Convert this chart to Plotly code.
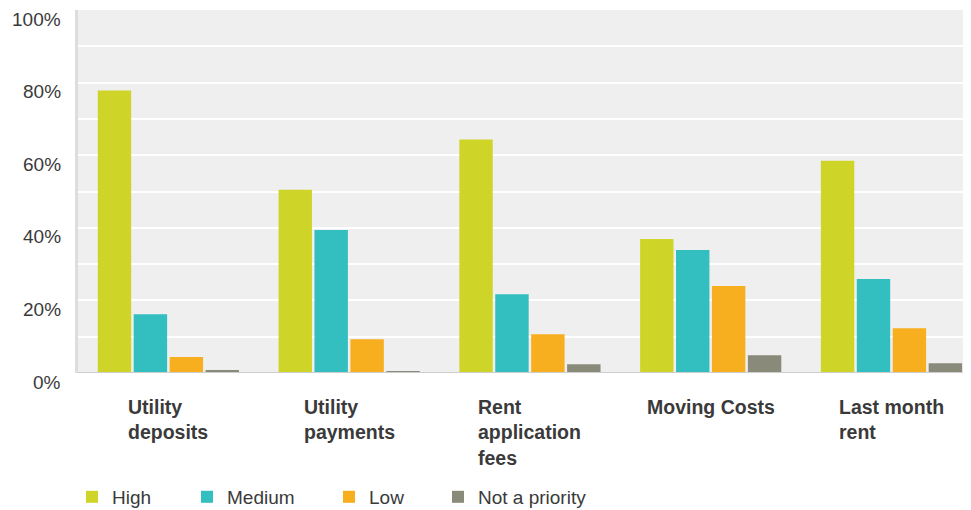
import plotly.graph_objects as go

categories = ["Utility deposits", "Utility payments", "Rent application fees", "Moving Costs", "Last month rent"]
category_labels = ["Utility<br>deposits", "Utility<br>payments", "Rent<br>application<br>fees", "Moving Costs", "Last month<br>rent"]
series_names = ["High", "Medium", "Low", "Not a priority"]
high = [77.8, 50.5, 64.3, 36.9, 58.5]
medium = [16.2, 39.4, 21.7, 33.9, 25.9]
low = [4.4, 9.3, 10.7, 24.0, 12.3]
not_priority = [0.8, 0.3, 2.4, 4.9, 2.7]
colors = ["#CFD528", "#33BEC0", "#F7AF1F", "#8A8A7A"]
y_tick_vals = [0, 20, 40, 60, 80, 100]
y_tick_text = ["0%", "20%", "40%", "60%", "80%", "100%"]

FONT = "Arial, Liberation Sans, sans-serif"
TXT = "#3a3a3a"
W, H = 963, 502
legend_x = [64, 179, 321, 430]

fig = go.Figure()
legend_layouts = {}
for i, (name, vals, col) in enumerate(zip(series_names, [high, medium, low, not_priority], colors)):
    lname = "legend" if i == 0 else f"legend{i+1}"
    fig.add_trace(go.Bar(x=categories, y=vals, name=name, legend=lname,
                         marker=dict(color=col, line=dict(width=0))))
    legend_layouts[lname] = dict(orientation="h", x=legend_x[i] / W, xref="container", xanchor="left",
                                 y=0.026, yref="container", yanchor="middle",
                                 font=dict(family=FONT, size=19, color=TXT),
                                 itemwidth=30, bgcolor="rgba(0,0,0,0)")

for cat, lab in zip(categories, category_labels):
    fig.add_annotation(x=cat, y=0, xref="x", yref="paper", text="<b>" + lab + "</b>",
                       showarrow=False, xanchor="center", yanchor="top", yshift=-21,
                       align="left", font=dict(family=FONT, size=19.5, color=TXT))

for v, t in zip(y_tick_vals, y_tick_text):
    fig.add_annotation(x=0, y=v, xref="paper", yref="y", text=t, showarrow=False,
                       xanchor="right", yanchor="middle", xshift=-15, yshift=-9,
                       font=dict(family=FONT, size=19, color=TXT))

fig.update_layout(
    width=W, height=H,
    margin=dict(l=70, r=0, t=2, b=137, autoexpand=False),
    paper_bgcolor="white", plot_bgcolor="#EFEFEF",
    barmode="group", bargap=0.205, bargroupgap=0.07,
    font=dict(family=FONT, size=19, color=TXT),
    showlegend=True,
    xaxis=dict(range=[-0.5, 4.44], showticklabels=False, showgrid=False, zeroline=False,
               showline=False, ticks=""),
    yaxis=dict(range=[0, 100], tickvals=y_tick_vals, showticklabels=False,
               showgrid=True, gridcolor="white", gridwidth=2,
               minor=dict(dtick=10, showgrid=True, gridcolor="white", gridwidth=2),
               zeroline=False, showline=True, linecolor="#DDDDDD", linewidth=3,
               ticks=""),
    **legend_layouts,
)
fig.add_shape(type="line", xref="paper", yref="y", x0=0, x1=1, y0=0, y1=0,
              line=dict(color="#CCCCCC", width=2))
fig.write_html("out.html")
